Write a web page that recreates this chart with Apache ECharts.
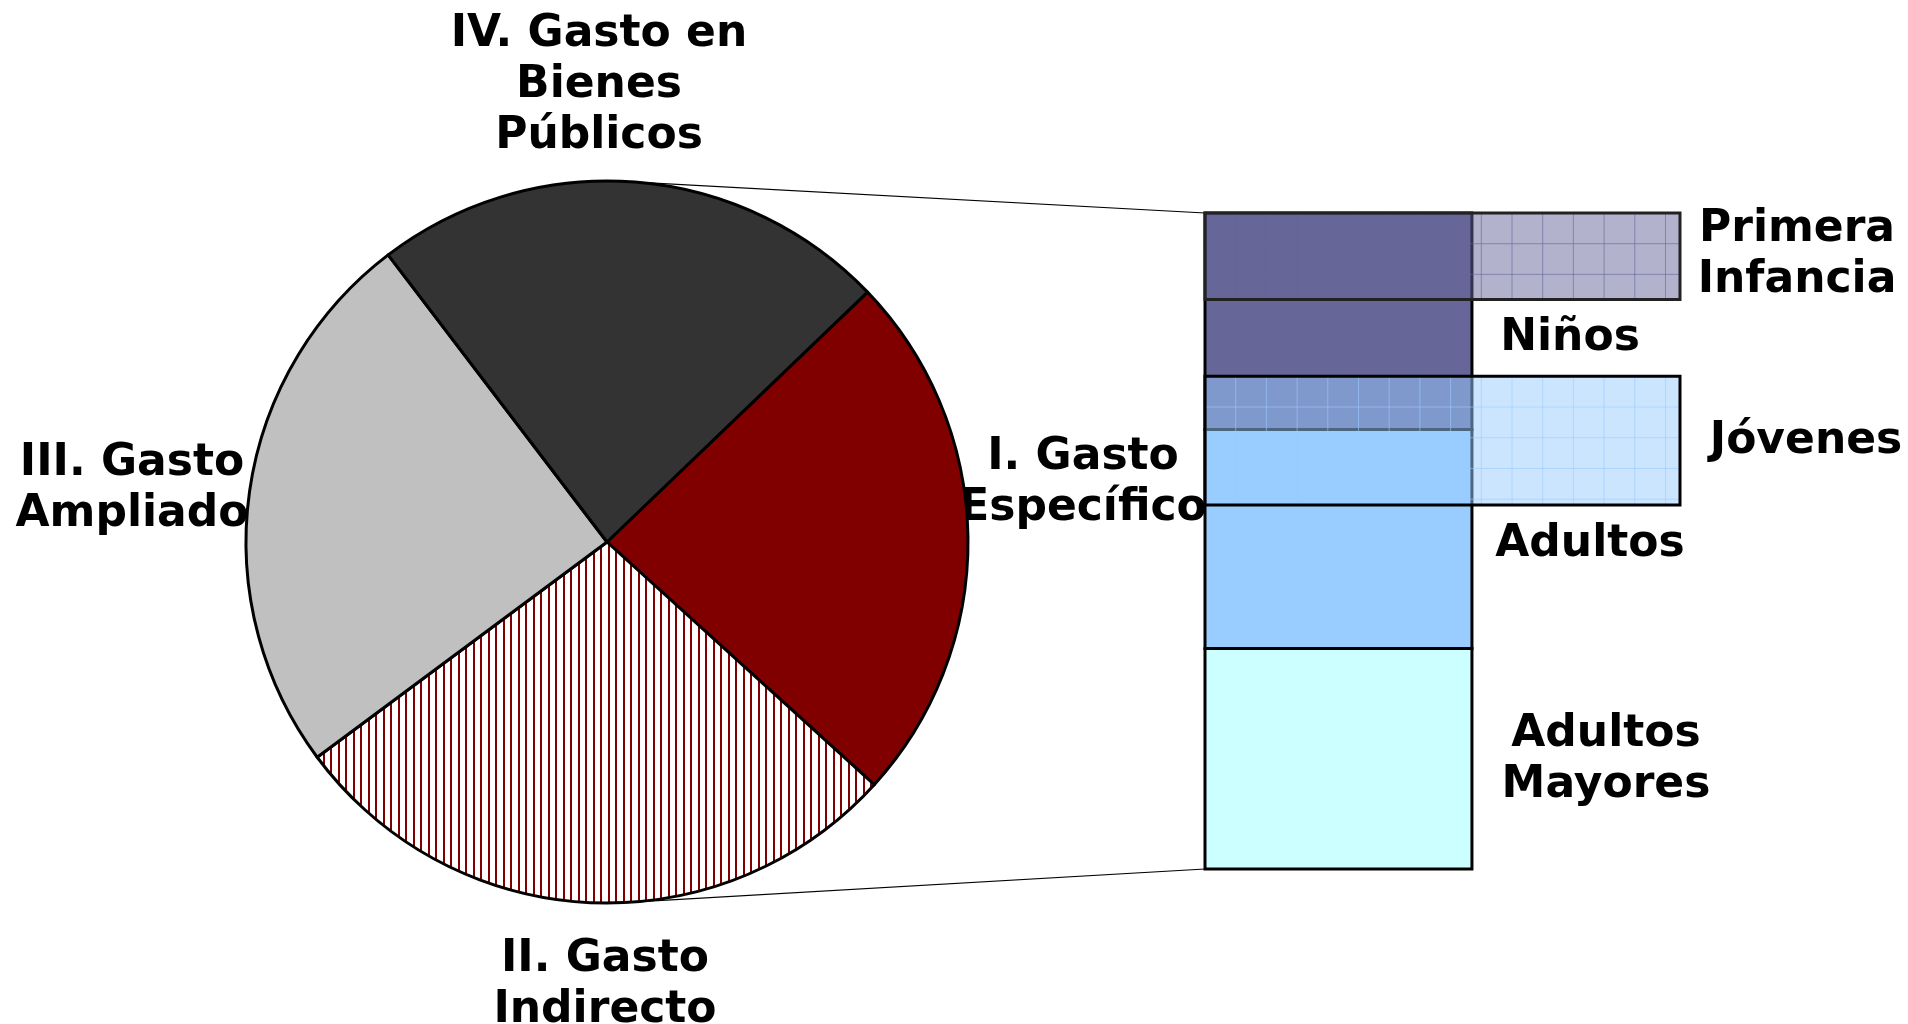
<!DOCTYPE html>
<html>
<head>
<meta charset="utf-8">
<script src="https://cdn.jsdelivr.net/npm/echarts@6/dist/echarts.min.js"></script>
<style>
  html, body { margin: 0; padding: 0; background: #fff; }
  #chart { width: 1908px; height: 1024px; }
</style>
</head>
<body>
<div id="chart"></div>
<script>
  // pie: the four spending components (% of total)
  const sliceLabels = ['I. Gasto\nEspecífico', 'II. Gasto\nIndirecto', 'III. Gasto\nAmpliado', 'IV. Gasto en\nBienes\nPúblicos']
  const sliceValues = [23.9, 28.1, 24.8, 23.2]

  // column: breakdown of "I. Gasto Específico" by age group (% of column, from top)
  const groupLabels = ['Niños', 'Adultos', 'Adultos\nMayores']
  const groupStart = [0, 33.0, 66.4]
  const groupEnd = [33.0, 66.4, 100]

  // groups overlapping the main ones
  const overlapLabels = ['Primera\nInfancia', 'Jóvenes']
  const overlapStart = [0, 24.9]
  const overlapEnd = [13.2, 44.5]

  const PIE_CENTER = [607, 542]
  const PIE_R = 361
  const COL_W = 0.562 // main column width, share of the grid width
  const CELL = 30.7   // grid cell of the overlap boxes, px

  const sliceColors = ['#800000', null, '#c0c0c0', '#333333']
  const groupColors = ['#666699', '#99ccff', '#ccffff']
  const overlapStyles = [
    { fill: 'rgba(102,102,153,0.5)', grid: 'rgba(102,102,153,0.6)', border: '#222' },
    { fill: 'rgba(153,204,255,0.5)', grid: 'rgba(153,204,255,0.6)', border: '#000' },
  ]

  // vertical dark red hatch for "Gasto Indirecto"
  function hatch() {
    const c = document.createElement('canvas')
    c.width = 15
    c.height = 15
    const ctx = c.getContext('2d')
    ctx.fillStyle = '#fff'
    ctx.fillRect(0, 0, 15, 15)
    ctx.fillStyle = '#800000'
    ctx.fillRect(0, 0, 2, 15)
    ctx.fillRect(8, 0, 2, 15)
    return { image: c, repeat: 'repeat' }
  }
  sliceColors[1] = hatch()

  function renderGroup(params, api) {
    const p0 = api.coord([0, api.value(0)])
    const p1 = api.coord([COL_W, api.value(1)])
    return {
      type: 'rect',
      shape: { x: p0[0], y: p0[1], width: p1[0] - p0[0], height: p1[1] - p0[1] },
      style: { fill: groupColors[params.dataIndex], stroke: '#000', lineWidth: 3 },
    }
  }

  function renderOverlap(params, api) {
    const st = overlapStyles[params.dataIndex]
    const p0 = api.coord([0, api.value(0)])
    const p1 = api.coord([1, api.value(1)])
    const x = p0[0], y = p0[1], w = p1[0] - x, h = p1[1] - y
    const children = [{ type: 'rect', shape: { x, y, width: w, height: h }, style: { fill: st.fill } }]
    for (let gx = x + CELL; gx < x + w - 2; gx += CELL) {
      children.push({ type: 'line', shape: { x1: gx, y1: y, x2: gx, y2: y + h }, style: { stroke: st.grid, lineWidth: 1 } })
    }
    for (let gy = y + CELL; gy < y + h - 2; gy += CELL) {
      children.push({ type: 'line', shape: { x1: x, y1: gy, x2: x + w, y2: gy }, style: { stroke: st.grid, lineWidth: 1 } })
    }
    children.push({ type: 'rect', shape: { x, y, width: w, height: h }, style: { fill: 'none', stroke: st.border, lineWidth: 3 } })
    return { type: 'group', children }
  }

  // thin lines from the pie (tangent point) to the top / bottom of the column
  function renderConnector(params, api) {
    const p = api.coord([0, api.value(1)])
    const dx = p[0] - PIE_CENTER[0], dy = p[1] - PIE_CENTER[1]
    const d = Math.sqrt(dx * dx + dy * dy)
    const phi = Math.atan2(dy, dx)
    const a = Math.acos(PIE_R / d)
    const t = params.dataIndex === 0 ? phi - a : phi + a
    return {
      type: 'line',
      shape: { x1: PIE_CENTER[0] + PIE_R * Math.cos(t), y1: PIE_CENTER[1] + PIE_R * Math.sin(t), x2: p[0], y2: p[1] },
      style: { stroke: '#000', lineWidth: 1.2 },
    }
  }

  const labelPos = {
    'I. Gasto\nEspecífico': [1083, 483],
    'II. Gasto\nIndirecto': [605, 985],
    'III. Gasto\nAmpliado': [132, 489],
    'IV. Gasto en\nBienes\nPúblicos': [599, 86],
    'Niños': [1570, 339],
    'Adultos': [1590, 545],
    'Adultos\nMayores': [1606, 760],
    'Primera\nInfancia': [1797, 255],
    'Jóvenes': [1806, 442],
  }
  const allLabels = [...sliceLabels, ...groupLabels, ...overlapLabels]

  const chart = echarts.init(document.getElementById('chart'))
  chart.setOption({
    animation: false,
    backgroundColor: '#fff',
    grid: { left: 1205, top: 213, width: 475, height: 656 },
    xAxis: { type: 'value', min: 0, max: 1, show: false },
    yAxis: { type: 'value', min: 0, max: 100, inverse: true, show: false },
    series: [
      {
        type: 'pie',
        center: PIE_CENTER,
        radius: PIE_R,
        startAngle: 43.8,
        clockwise: true,
        silent: true,
        label: { show: false },
        labelLine: { show: false },
        emphasis: { disabled: true },
        itemStyle: { borderColor: '#000', borderWidth: 3 },
        data: sliceLabels.map((n, i) => ({ name: n, value: sliceValues[i], itemStyle: { color: sliceColors[i] } })),
      },
      {
        type: 'custom',
        coordinateSystem: 'cartesian2d',
        silent: true,
        renderItem: renderConnector,
        data: [[0, groupStart[0]], [0, groupEnd[groupEnd.length - 1]]],
        z: 1,
      },
      {
        type: 'custom',
        coordinateSystem: 'cartesian2d',
        silent: true,
        renderItem: renderGroup,
        encode: { x: -1, y: [0, 1] },
        data: groupStart.map((s, i) => [s, groupEnd[i]]),
        z: 2,
      },
      {
        type: 'custom',
        coordinateSystem: 'cartesian2d',
        silent: true,
        renderItem: renderOverlap,
        encode: { x: -1, y: [0, 1] },
        data: overlapStart.map((s, i) => [s, overlapEnd[i]]),
        z: 3,
      },
    ],
    graphic: allLabels.map((t) => ({
      type: 'text',
      x: labelPos[t][0],
      y: labelPos[t][1],
      silent: true,
      style: {
        text: t,
        fontFamily: '"DejaVu Sans", Verdana, sans-serif',
        fontWeight: 'bold',
        fontSize: 44,
        lineHeight: 51,
        fill: '#000',
        align: 'center',
        verticalAlign: 'middle',
      },
    })),
  })
</script>
</body>
</html>
